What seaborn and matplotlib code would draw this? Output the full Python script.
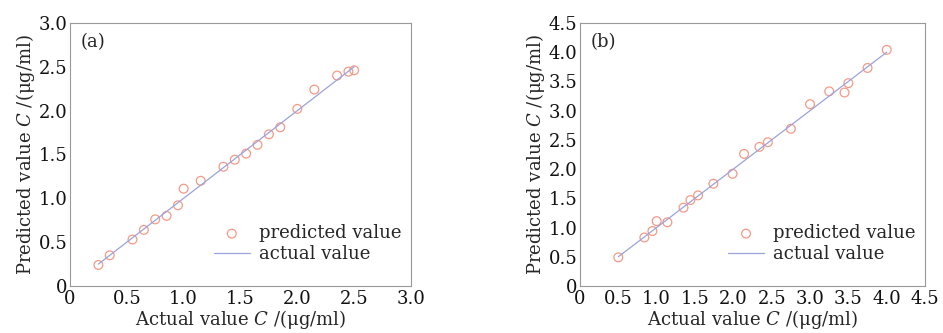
import numpy as np
import pandas as pd
import matplotlib
matplotlib.use("Agg")
import matplotlib.pyplot as plt
import seaborn as sns
from matplotlib.ticker import FuncFormatter

# Panel (a) data
a_actual = [0.25, 0.35, 0.55, 0.65, 0.75, 0.85, 0.95, 1.0, 1.15, 1.35,
            1.45, 1.55, 1.65, 1.75, 1.85, 2.0, 2.15, 2.35, 2.45, 2.5]
a_pred = [0.24, 0.35, 0.53, 0.64, 0.76, 0.80, 0.92, 1.11, 1.20, 1.36,
          1.44, 1.51, 1.61, 1.73, 1.81, 2.02, 2.24, 2.40, 2.445, 2.46]
a_line = [0.25, 2.5]

# Panel (b) data
b_actual = [0.5, 0.84, 0.945, 1.0, 1.14, 1.35, 1.44, 1.54, 1.74, 1.99,
            2.14, 2.34, 2.45, 2.75, 3.0, 3.25, 3.45, 3.5, 3.75, 4.0]
b_pred = [0.49, 0.83, 0.94, 1.11, 1.09, 1.34, 1.47, 1.55, 1.75, 1.92,
          2.26, 2.38, 2.46, 2.69, 3.11, 3.33, 3.31, 3.47, 3.73, 4.04]
b_line = [0.5, 4.0]

panel_labels = ["(a)", "(b)"]
a_ticks = [0, 0.5, 1.0, 1.5, 2.0, 2.5, 3.0]
b_ticks = [0, 0.5, 1.0, 1.5, 2.0, 2.5, 3.0, 3.5, 4.0, 4.5]

sns.set_style("white")
plt.rcParams['font.family'] = ['DejaVu Serif']
plt.rcParams['mathtext.fontset'] = 'dejavuserif'

fig = plt.figure(figsize=(9.43, 3.33), dpi=100)
ax_a = fig.add_axes([0.0742, 0.1411, 0.3616, 0.79])
ax_b = fig.add_axes([0.615, 0.1411, 0.366, 0.79])

marker_color = "#f59a86"
line_color = "#9aa3dc"
fs = 13

fmt = FuncFormatter(lambda v, p: "0" if abs(v) < 1e-9 else f"{v:.1f}")

for ax, xs, ys, ln, ticks, lab in [
    (ax_a, a_actual, a_pred, a_line, a_ticks, panel_labels[0]),
    (ax_b, b_actual, b_pred, b_line, b_ticks, panel_labels[1]),
]:
    df = pd.DataFrame({"x": xs, "y": ys})
    dl = pd.DataFrame({"x": ln, "y": ln})
    sns.scatterplot(data=df, x="x", y="y", ax=ax, marker="o", s=40,
                    facecolors="none", edgecolor=marker_color, linewidth=0.9,
                    label="predicted value")
    sns.lineplot(data=dl, x="x", y="y", ax=ax, color=line_color, linewidth=0.9,
                 label="actual value")
    ax.set_xlim(ticks[0], ticks[-1])
    ax.set_ylim(ticks[0], ticks[-1])
    ax.set_xticks(ticks)
    ax.set_yticks(ticks)
    ax.xaxis.set_major_formatter(fmt)
    ax.yaxis.set_major_formatter(fmt)
    ax.tick_params(labelsize=fs, length=0, colors="#111111")
    ax.tick_params(axis="x", pad=3)
    ax.tick_params(axis="y", pad=2)
    for s in ax.spines.values():
        s.set_color("#999999")
        s.set_linewidth(0.8)
    ax.set_xlabel("Actual value $C$ /(μg/ml)", fontsize=fs, labelpad=0)
    ax.set_ylabel("Predicted value $C$ /(μg/ml)", fontsize=fs, labelpad=1)
    ax.text(0.03, 0.96, lab, transform=ax.transAxes, fontsize=fs, va="top", ha="left")
    leg = ax.legend(loc="lower right", bbox_to_anchor=(1.038, 0.0), frameon=False,
                    fontsize=fs, handlelength=2.0, handletextpad=0.5,
                    borderaxespad=0.95, labelspacing=0.17, borderpad=0.3)
    h = leg.legend_handles[0]
    h.set_facecolor("none")
    h.set_edgecolor(marker_color)

fig.savefig("out.png", dpi=100)
